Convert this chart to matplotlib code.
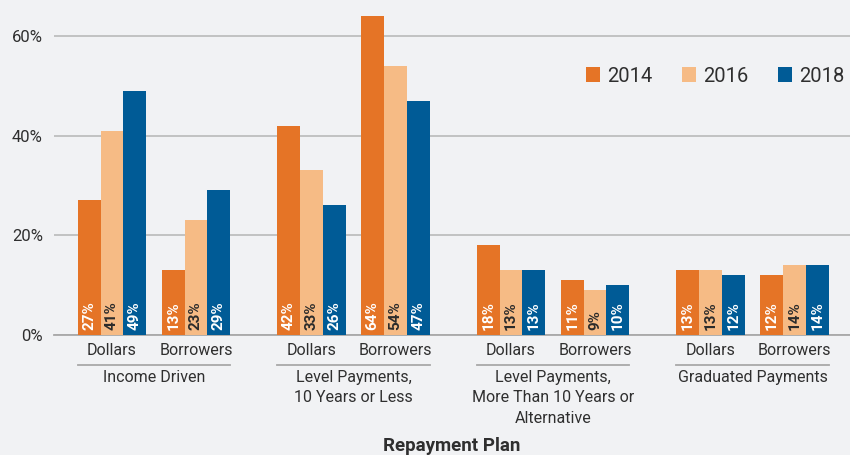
import numpy as np
import matplotlib.pyplot as plt
from matplotlib.patches import Patch
from matplotlib.ticker import FuncFormatter

plt.rcParams['font.family'] = ['Roboto', 'DejaVu Sans']

years = ['2014', '2016', '2018']
groups = ['Income Driven', 'Level Payments,\n10 Years or Less',
          'Level Payments,\nMore Than 10 Years or\nAlternative', 'Graduated Payments']
subs = ['Dollars', 'Borrowers']

# values per year, order: group1 Dollars, group1 Borrowers, group2 Dollars, ...
v2014 = [27, 13, 42, 64, 18, 11, 13, 12]
v2016 = [41, 23, 33, 54, 13, 9, 13, 14]
v2018 = [49, 29, 26, 47, 13, 10, 12, 14]

colors = ['#E57426', '#F6BB85', '#005B96']
label_colors = ['white', '#2b2b2b', 'white']
bg = '#F1F2F4'
txt = '#2f2f2f'

fig = plt.figure(figsize=(8.5, 4.55), dpi=100, facecolor=bg)
ax = fig.add_axes([54 / 850, 120 / 455, 796 / 850, 335 / 455], facecolor=bg)

# cluster centres: 1 unit between Dollars/Borrowers, 2.375 between groups
centres = np.array([g * 2.375 + s for g in range(len(groups)) for s in range(2)])
width = 0.271

for i, (vals, c, lc) in enumerate(zip([v2014, v2016, v2018], colors, label_colors)):
    xs = centres + (i - 1) * width
    ax.bar(xs, vals, width=width, color=c, zorder=3)
    for x, v in zip(xs, vals):
        ax.text(x, 1.0, f'{v}%', rotation=90, ha='center', va='bottom',
                color=lc, fontsize=11, fontweight='bold', zorder=4)

ax.set_ylim(0, 67.2)
ax.set_xlim(-0.69, 8.786)
ax.set_yticks([0, 20, 40, 60])
ax.yaxis.set_major_formatter(FuncFormatter(lambda v, p: f'{v:.0f}%'))
ax.tick_params(axis='y', length=0, labelsize=12, labelcolor=txt, pad=8)
ax.set_xticks([])
ax.grid(axis='y', color='#BEBEBE', linewidth=1.3, zorder=0)
for s in ['top', 'right', 'left']:
    ax.spines[s].set_visible(False)
ax.spines['bottom'].set_color('#A8A8A8')
ax.spines['bottom'].set_linewidth(1.3)

tr = ax.get_xaxis_transform()
for k, x in enumerate(centres):
    ax.text(x, -0.045, subs[k % 2], transform=tr, ha='center', va='center',
            fontsize=11.5, color=txt)
for g, name in enumerate(groups):
    left = centres[2 * g] - 1.5 * width
    right = centres[2 * g + 1] + 1.5 * width
    ax.plot([left, right], [-0.0896, -0.0896], transform=tr, color='#A8A8A8',
            linewidth=1.3, clip_on=False)
    ax.text((left + right) / 2, -0.104, name, transform=tr, ha='center', va='top',
            fontsize=11.5, color=txt, linespacing=1.45)

ax.text(0.5, -0.331, 'Repayment Plan', transform=ax.transAxes, ha='center',
        va='center', fontsize=13.5, fontweight='bold', color=txt)

handles = [Patch(facecolor=c, edgecolor='none') for c in colors]
ax.legend(handles, years, loc='center right', bbox_to_anchor=(1.011, 0.773),
          ncol=3, frameon=False, fontsize=14.5, handlelength=0.7, handleheight=0.7,
          handletextpad=0.35, columnspacing=1.47, labelcolor=txt,
          borderpad=0.2)

fig.savefig('out.png', dpi=100, facecolor=bg)
